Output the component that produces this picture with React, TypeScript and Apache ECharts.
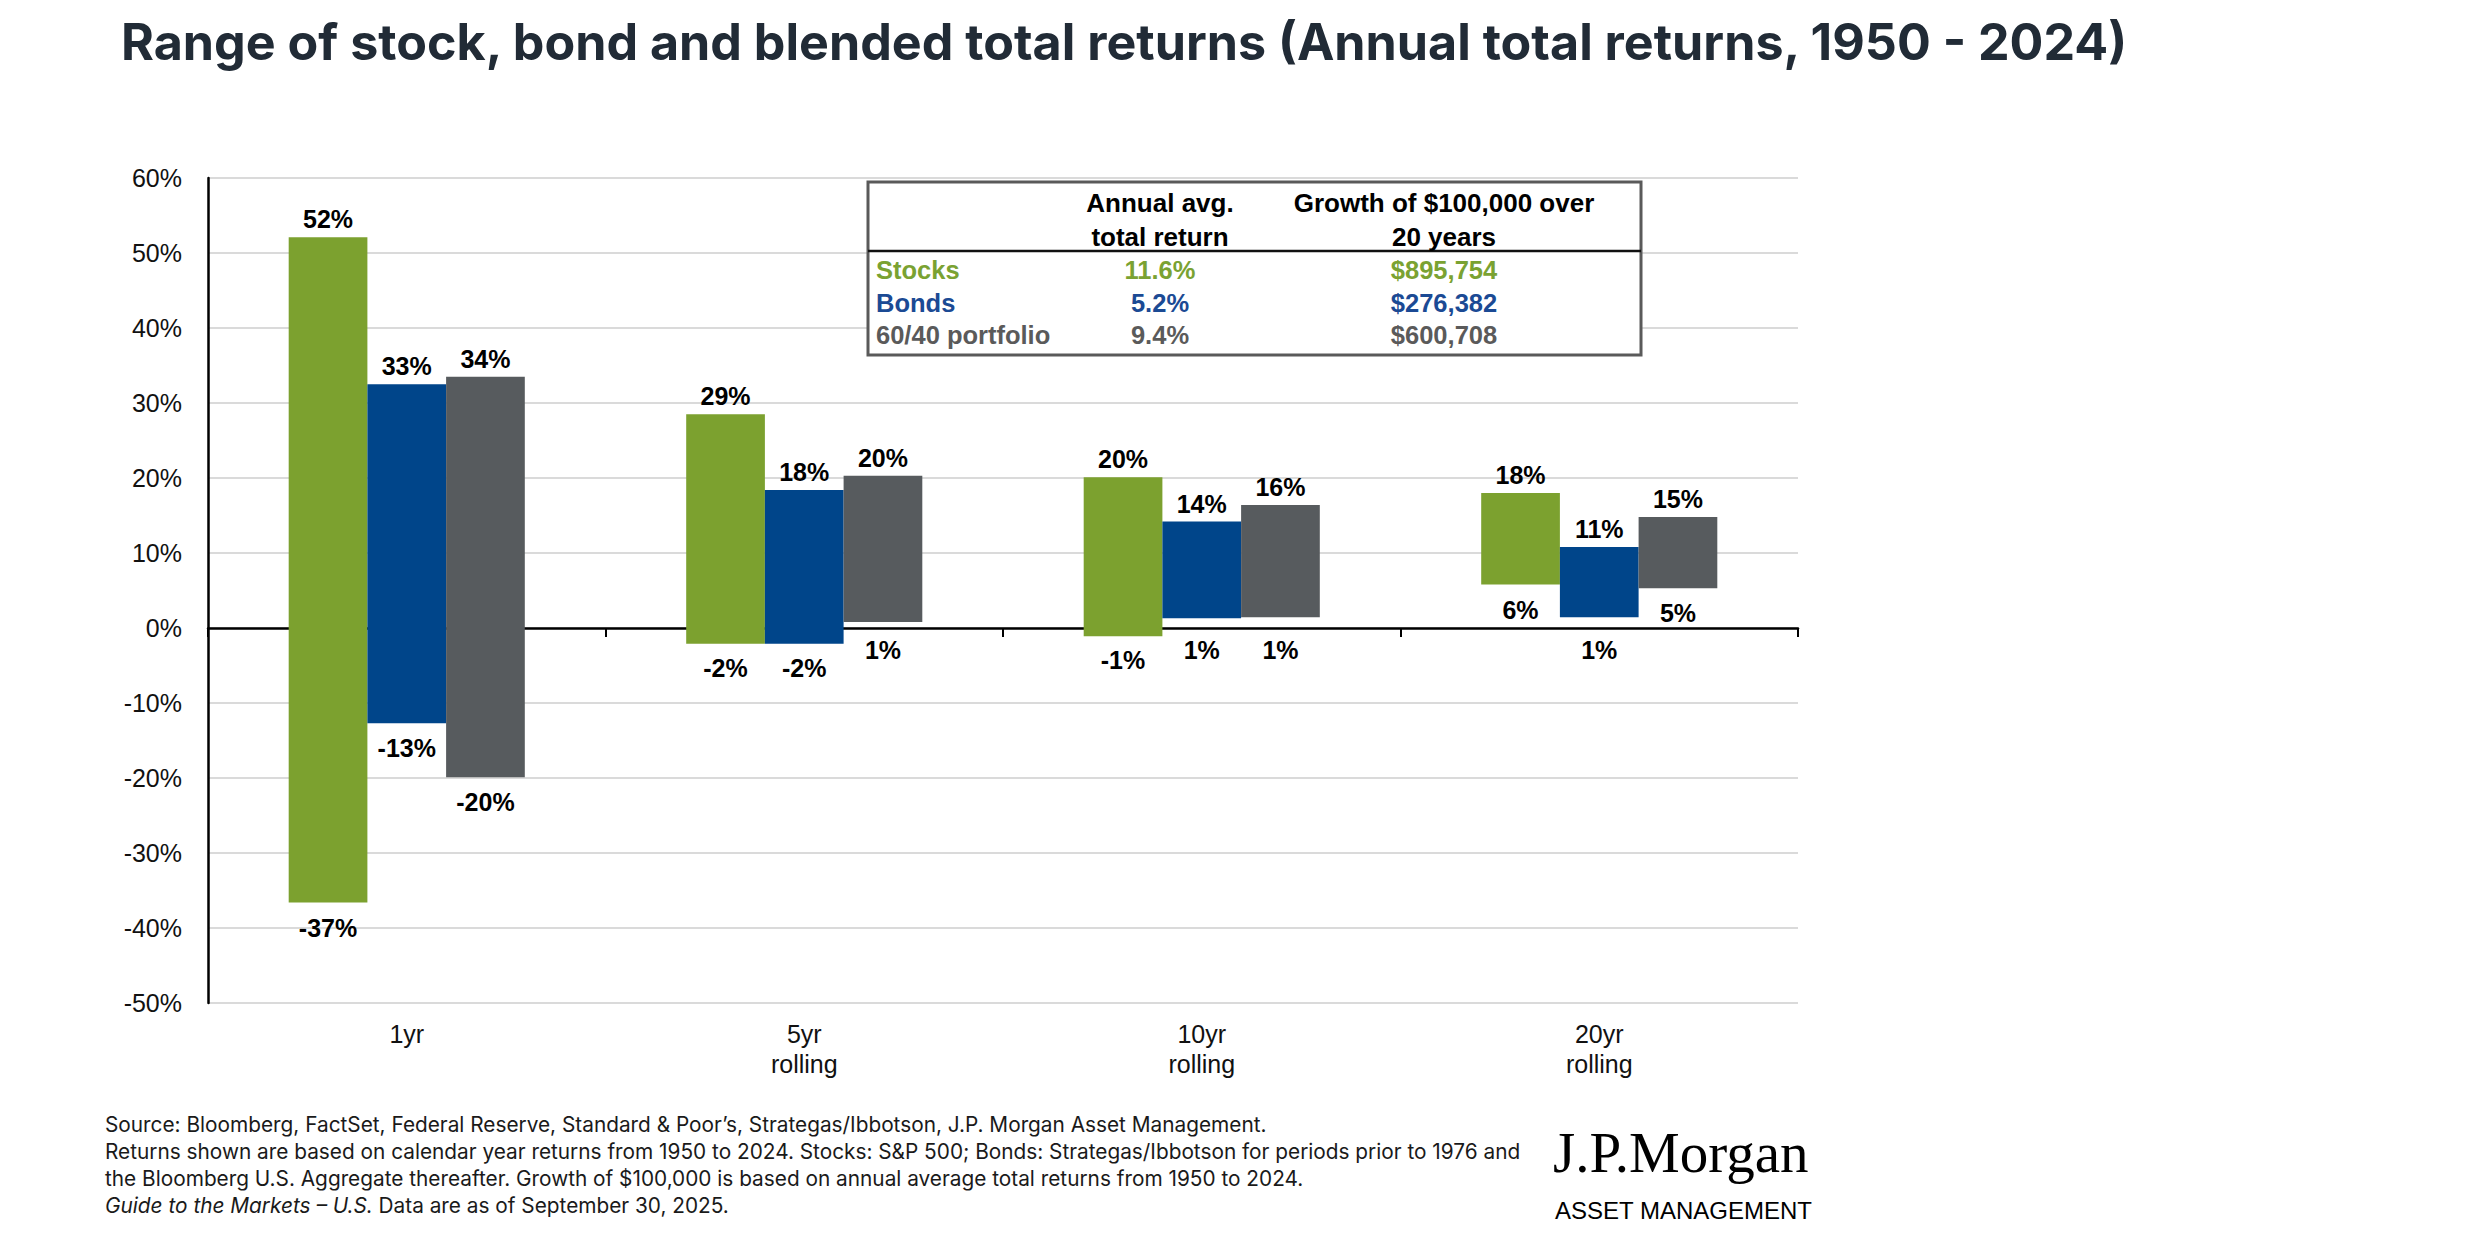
import React, { useEffect, useRef } from "react";
import * as echarts from "echarts";

// ---------- data ----------
const categories = ["1yr", "5yr\nrolling", "10yr\nrolling", "20yr\nrolling"];
const seriesNames = ["Stocks", "Bonds", "60/40 portfolio"];
const stocksHigh = [52.1, 28.5, 20.1, 18.0];
const stocksLow = [-36.6, -2.1, -1.1, 5.8];
const bondsHigh = [32.5, 18.4, 14.2, 10.8];
const bondsLow = [-12.7, -2.1, 1.3, 1.45];
const blendHigh = [33.5, 20.3, 16.4, 14.8];
const blendLow = [-19.9, 0.8, 1.45, 5.3];
const yMin = -50;
const yMax = 60;
const yStep = 10;

const tableHeadReturn = ["Annual avg.", "total return"];
const tableHeadGrowth = ["Growth of $100,000 over", "20 years"];
const tableRowNames = ["Stocks", "Bonds", "60/40 portfolio"];
const tableAvgReturn = ["11.6%", "5.2%", "9.4%"];
const tableGrowth = ["$895,754", "$276,382", "$600,708"];

const titleText =
  "Range of stock, bond and blended total returns (Annual total returns, 1950 - 2024)";
const footerLines = [
  "Source: Bloomberg, FactSet, Federal Reserve, Standard & Poor’s, Strategas/Ibbotson, J.P. Morgan Asset Management.",
  "Returns shown are based on calendar year returns from 1950 to 2024. Stocks: S&P 500; Bonds: Strategas/Ibbotson for periods prior to 1976 and",
  "the Bloomberg U.S. Aggregate thereafter. Growth of $100,000 is based on annual average total returns from 1950 to 2024.",
];
const footerItalic = "Guide to the Markets – U.S.";
const footerLast = " Data are as of September 30, 2025.";

// ---------- styles ----------
const BAR_COLORS = ["#7CA12F", "#00458A", "#575B5E"];
const TABLE_COLORS = ["#7AA232", "#1B4A94", "#5A5A5A"];
const ARIAL = '"Liberation Sans", Arial, Helvetica, sans-serif';
const INTER = 'Inter, "Noto Sans", sans-serif';

const lows = [stocksLow, bondsLow, blendLow];
const highs = [stocksHigh, bondsHigh, blendHigh];

function makeSeries(idx: number) {
  return {
    type: "custom",
    name: seriesNames[idx],
    silent: true,
    data: categories.map((_, i) => [i, lows[idx][i], highs[idx][i]]),
    encode: { x: 0, y: [1, 2] },
    renderItem: (params: any, api: any) => {
      const ci = api.value(0);
      const lo = api.value(1);
      const hi = api.value(2);
      const base = api.coord([ci, 0]);
      const zeroY = base[1];
      const catW = api.size([1, 0])[0];
      const barW = catW * 0.198;
      const cx = base[0] + (idx - 1) * barW;
      const yTop = api.coord([ci, hi])[1];
      const yBot = api.coord([ci, lo])[1];
      const lowLabelY =
        Math.abs(lo) < 3 ? Math.max(yBot + 24, zeroY + 22) : yBot + 25;
      const labelStyle = {
        fontSize: 25,
        fontWeight: "bold",
        fontFamily: ARIAL,
        fill: "#000",
        align: "center",
        verticalAlign: "middle",
        textAlign: "center",
        textVerticalAlign: "middle",
      };
      return {
        type: "group",
        children: [
          {
            type: "rect",
            shape: { x: cx - barW / 2, y: yTop, width: barW, height: yBot - yTop },
            style: { fill: BAR_COLORS[idx] },
          },
          {
            type: "text",
            style: { ...labelStyle, text: Math.round(hi) + "%", x: cx, y: yTop - 18 },
          },
          {
            type: "text",
            style: { ...labelStyle, text: Math.round(lo) + "%", x: cx, y: lowLabelY },
          },
        ],
      };
    },
  };
}

function txt(
  text: string,
  x: number,
  y: number,
  size: number,
  opts: Record<string, any> = {}
) {
  const align = opts.align || "left";
  return {
    type: "text",
    x,
    y,
    z: 20,
    style: {
      text,
      fontSize: size,
      fontFamily: opts.family || ARIAL,
      fontWeight: opts.weight || "normal",
      fontStyle: opts.style || "normal",
      fill: opts.fill || "#000",
      align,
      verticalAlign: "middle",
      textAlign: align,
      textVerticalAlign: "middle",
      rich: opts.rich,
    },
  };
}

function buildGraphic() {
  const g: any[] = [];
  // title
  g.push(txt(titleText, 121, 41, 50.2, { family: INTER, weight: 700, fill: "#212B36" }));

  // table
  const tx = 868;
  const ty = 182;
  const tw = 773;
  const th = 173;
  g.push({
    type: "rect",
    z: 15,
    shape: { x: tx, y: ty, width: tw, height: th },
    style: { fill: "#fff", stroke: "#5A5A5A", lineWidth: 3 },
  });
  g.push({
    type: "line",
    z: 16,
    shape: { x1: tx, y1: 251, x2: tx + tw, y2: 251 },
    style: { stroke: "#111", lineWidth: 2.5 },
  });
  const col1 = 1160;
  const col2 = 1444;
  tableHeadReturn.forEach((t, i) =>
    g.push(txt(t, col1, 203 + i * 34, 26, { weight: "bold", align: "center" }))
  );
  tableHeadGrowth.forEach((t, i) =>
    g.push(txt(t, col2, 203 + i * 34, 26, { weight: "bold", align: "center" }))
  );
  tableRowNames.forEach((name, i) => {
    const y = 270 + i * 32.5;
    const fill = TABLE_COLORS[i];
    g.push(txt(name, 876, y, 25.5, { weight: "bold", fill }));
    g.push(txt(tableAvgReturn[i], col1, y, 25.5, { weight: "bold", fill, align: "center" }));
    g.push(txt(tableGrowth[i], col2, y, 25.5, { weight: "bold", fill, align: "center" }));
  });

  // footer
  footerLines.forEach((line, i) =>
    g.push(txt(line, 105, 1124 + i * 27, 20.8, { family: INTER, fill: "#1A1A1A" }))
  );
  g.push(
    txt("{i|" + footerItalic + "}" + footerLast, 105, 1205, 20.8, {
      family: INTER,
      fill: "#1A1A1A",
      rich: {
        i: { fontStyle: "italic", fontSize: 20.8, fontFamily: INTER, fill: "#1A1A1A" },
      },
    })
  );

  // logo
  g.push(txt("J.P.Morgan", 1553, 1152, 57, { family: '"Liberation Serif", "DejaVu Serif", serif', fill: "#000" }));
  g.push(txt("ASSET MANAGEMENT", 1555, 1210, 24, { fill: "#000" }));
  return g;
}

export default function App() {
  const ref = useRef<HTMLDivElement>(null);
  useEffect(() => {
    if (!ref.current) return;
    const chart = echarts.init(ref.current, undefined, { renderer: "svg" });
    chart.setOption({
      animation: false,
      backgroundColor: "#fff",
      textStyle: { fontFamily: ARIAL },
      grid: {
        left: 208,
        right: 680,
        top: 178,
        bottom: 235,
        containLabel: false,
        outerBoundsMode: "none",
      },
      xAxis: {
        type: "category",
        data: categories,
        axisLine: { onZero: true, lineStyle: { color: "#000", width: 2.5 } },
        axisTick: { show: true, length: 9, lineStyle: { color: "#000", width: 2 } },
        axisLabel: {
          margin: 16,
          fontSize: 25,
          lineHeight: 30,
          color: "#111",
          fontFamily: ARIAL,
        },
        splitLine: { show: false },
      },
      yAxis: {
        type: "value",
        min: yMin,
        max: yMax,
        interval: yStep,
        axisLine: { show: true, onZero: false, lineStyle: { color: "#000", width: 2.5 } },
        axisTick: { show: false },
        axisLabel: {
          formatter: "{value}%",
          fontSize: 25,
          color: "#111",
          margin: 26,
          fontFamily: ARIAL,
        },
        splitLine: { lineStyle: { color: "#DADADA", width: 2 } },
      },
      series: [makeSeries(0), makeSeries(1), makeSeries(2)],
      graphic: buildGraphic(),
    });
    return () => chart.dispose();
  }, []);
  return (
    <div
      ref={ref}
      style={{ position: "fixed", left: 0, top: 0, width: 2478, height: 1238, background: "#fff" }}
    />
  );
}
